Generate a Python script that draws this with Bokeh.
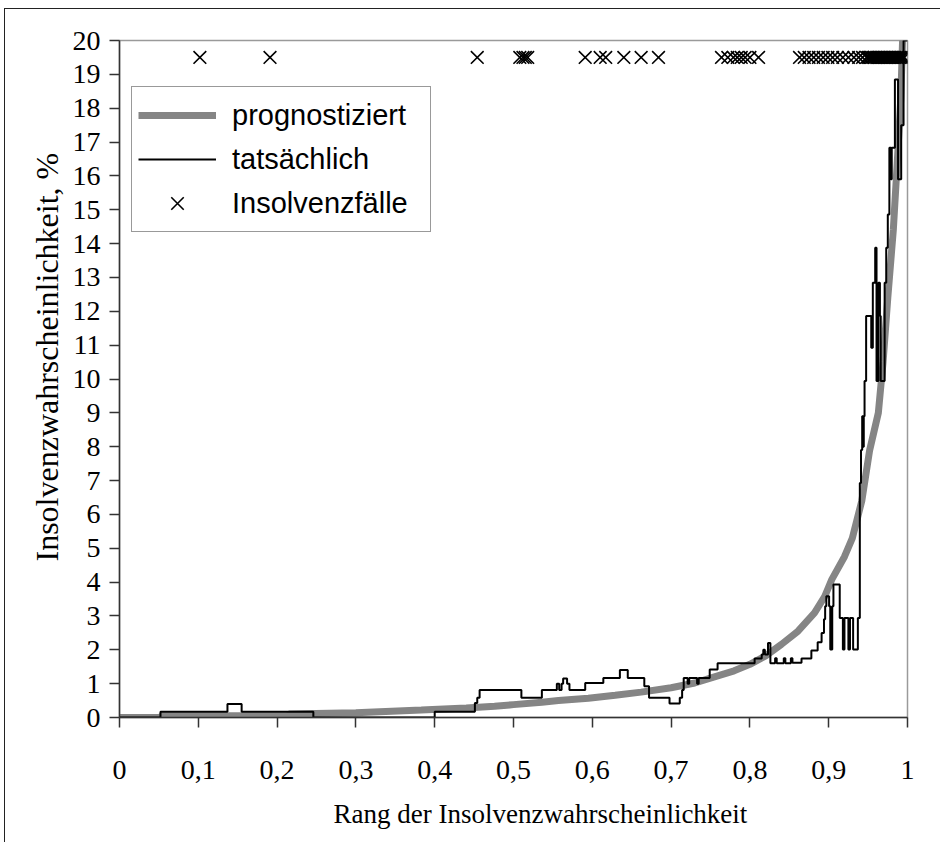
from bokeh.plotting import figure
from bokeh.models import FixedTicker, Legend, LegendItem, Range1d, Title
from bokeh.embed import file_html
from bokeh.resources import INLINE

# ---- data ----
x_ticks = [0, 0.1, 0.2, 0.3, 0.4, 0.5, 0.6, 0.7, 0.8, 0.9, 1]
x_tick_labels = ["0", "0,1", "0,2", "0,3", "0,4", "0,5", "0,6", "0,7", "0,8", "0,9", "1"]
y_ticks = [0, 1, 2, 3, 4, 5, 6, 7, 8, 9, 10, 11, 12, 13, 14, 15, 16, 17, 18, 19, 20]
x_title = "Rang der Insolvenzwahrscheinlichkeit"
y_title = "Insolvenzwahrscheinlichkeit, %"

# predicted insolvency probability (grey curve)
pred_x = [0.000, 0.052, 0.053, 0.214, 0.215, 0.300, 0.383, 0.440, 0.476, 0.500,
          0.536, 0.557, 0.595, 0.629, 0.662, 0.700, 0.730, 0.755, 0.780, 0.800,
          0.820, 0.840, 0.861, 0.882, 0.895, 0.904, 0.920, 0.930, 0.942, 0.952,
          0.963, 0.969, 0.975, 0.982, 0.987, 0.9915, 0.994]
pred_y = [0.00, 0.00, 0.05, 0.05, 0.10, 0.14, 0.22, 0.28, 0.33, 0.38,
          0.45, 0.50, 0.57, 0.66, 0.75, 0.88, 1.02, 1.20, 1.38, 1.57,
          1.82, 2.16, 2.55, 3.09, 3.58, 4.08, 4.75, 5.30, 6.40, 7.90,
          9.00, 10.50, 12.40, 14.40, 16.40, 18.30, 20.20]

# actual insolvency rate (black step line, value holds until next x)
act_x = [0.000, 0.052, 0.137, 0.155, 0.246, 0.400, 0.451, 0.454, 0.457, 0.510,
         0.536, 0.555, 0.558, 0.561, 0.563, 0.568, 0.571, 0.591, 0.614, 0.635,
         0.645, 0.666, 0.672, 0.698, 0.711, 0.714, 0.716, 0.721, 0.723, 0.733,
         0.735, 0.749, 0.759, 0.806, 0.815, 0.817, 0.819, 0.823, 0.826, 0.832,
         0.834, 0.843, 0.845, 0.852, 0.854, 0.8655, 0.878, 0.886, 0.891, 0.894,
         0.8955, 0.897, 0.9005, 0.902, 0.9045, 0.906, 0.914, 0.918, 0.920, 0.925,
         0.927, 0.931, 0.937, 0.9395, 0.941, 0.9425, 0.9435, 0.9445, 0.9455, 0.9475,
         0.954, 0.956, 0.959, 0.9607, 0.963, 0.965, 0.966, 0.971, 0.973, 0.975,
         0.977, 0.979, 0.980, 0.984, 0.988, 0.992, 0.995, 1.000]
act_y = [0.00, 0.17, 0.40, 0.17, 0.00, 0.17, 0.43, 0.58, 0.81, 0.58,
         0.81, 1.00, 0.81, 1.00, 1.15, 1.00, 0.81, 1.02, 1.17, 1.40,
         1.17, 0.92, 0.58, 0.41, 0.58, 0.81, 1.17, 1.00, 1.17, 1.00,
         1.17, 1.42, 1.60, 1.74, 1.86, 2.00, 1.86, 2.20, 1.60, 1.75,
         1.60, 1.75, 1.60, 1.75, 1.62, 1.74, 1.98, 2.22, 2.50, 2.90,
         3.29, 3.58, 3.29, 2.01, 3.29, 3.93, 2.94, 2.01, 2.94, 2.01,
         2.94, 2.01, 2.94, 6.93, 7.90, 8.90, 8.00, 8.90, 9.94, 11.86,
         10.92, 12.84, 13.88, 9.94, 12.84, 11.86, 9.94, 12.84, 13.88, 14.86,
         16.83, 15.90, 16.83, 18.85, 15.90, 17.50, 20.00, 20.00]

# insolvency cases (crosses along the top)
insolv_x = [0.102, 0.191, 0.454, 0.508, 0.512, 0.515, 0.518,
            0.591, 0.610, 0.617, 0.640, 0.662, 0.684,
            0.764, 0.772, 0.779, 0.784, 0.789, 0.794, 0.800, 0.811,
            0.863, 0.869, 0.875, 0.881, 0.887, 0.893, 0.899, 0.905, 0.911, 0.918,
            0.925, 0.932, 0.938, 0.943,
            0.948, 0.950, 0.952, 0.954, 0.956, 0.958, 0.960, 0.962, 0.964, 0.966,
            0.968, 0.970, 0.972, 0.974, 0.976, 0.978, 0.980, 0.982, 0.984, 0.986,
            0.988, 0.990, 0.992, 0.994, 0.996]
insolv_level = 19.5
insolv_y = [insolv_level for _ in insolv_x]

legend_labels = ["prognostiziert", "tatsächlich", "Insolvenzfälle"]

# ---- figure ----
p = figure(width=936, height=834, output_backend="svg", toolbar_location=None,
           x_range=Range1d(0, 1), y_range=Range1d(0, 20),
           min_border_left=114, min_border_right=34, min_border_top=31, min_border_bottom=126)
p.styles = {"border-left": "1px solid #222222", "border-top": "1px solid #222222",
            "margin-left": "4px", "margin-top": "8px"}

p.xgrid.visible = False
p.ygrid.visible = False
p.outline_line_color = "#9a9a9a"
p.outline_line_width = 1.5
p.background_fill_color = "white"
p.border_fill_color = "white"

r_pred = p.line(pred_x, pred_y, line_color="#858585", line_width=7)
r_act = p.step(act_x, act_y, mode="after", line_color="black", line_width=2)
r_ins = p.scatter(insolv_x, insolv_y, marker="x", size=18, line_color="black", line_width=1.6)

for ax in (p.xaxis[0], p.yaxis[0]):
    ax.axis_line_color = "#333333"
    ax.axis_line_width = 1.5
    ax.major_tick_line_color = "#333333"
    ax.major_tick_line_width = 1.5
    ax.major_tick_out = 10
    ax.major_tick_in = 0
    ax.minor_tick_line_color = None
    ax.major_label_text_font = "Liberation Serif"
    ax.major_label_text_font_size = "28px"
    ax.major_label_text_color = "black"

p.xaxis.ticker = FixedTicker(ticks=x_ticks)
p.xaxis.major_label_overrides = {t: lab for t, lab in zip(x_ticks, x_tick_labels)}
p.xaxis.major_label_standoff = 33

p.yaxis.ticker = FixedTicker(ticks=y_ticks)
p.yaxis.major_label_standoff = 9

p.add_layout(Title(text=x_title, align="left", offset=214, standoff=30,
                   text_font="Liberation Serif", text_font_size="27px",
                   text_font_style="normal", text_color="black"), "below")
p.add_layout(Title(text=y_title, align="left", offset=156, standoff=10,
                   text_font="Liberation Serif", text_font_size="32px",
                   text_font_style="normal", text_color="black"), "left")

legend = Legend(items=[LegendItem(label=legend_labels[0], renderers=[r_pred]),
                       LegendItem(label=legend_labels[1], renderers=[r_act]),
                       LegendItem(label=legend_labels[2], renderers=[r_ins])],
                location=(12, 485))
legend.margin = 0
legend.padding = 6
legend.spacing = 0
legend.glyph_width = 78
legend.glyph_height = 44
legend.label_height = 44
legend.label_width = 192
legend.label_standoff = 16
legend.label_text_font = "Liberation Sans"
legend.label_text_font_size = "29px"
legend.label_text_color = "black"
legend.border_line_color = "#333333"
legend.border_line_width = 1.5
legend.background_fill_color = "white"
legend.background_fill_alpha = 1.0
p.add_layout(legend, "center")

open("out.html", "w").write(file_html(p, INLINE))
